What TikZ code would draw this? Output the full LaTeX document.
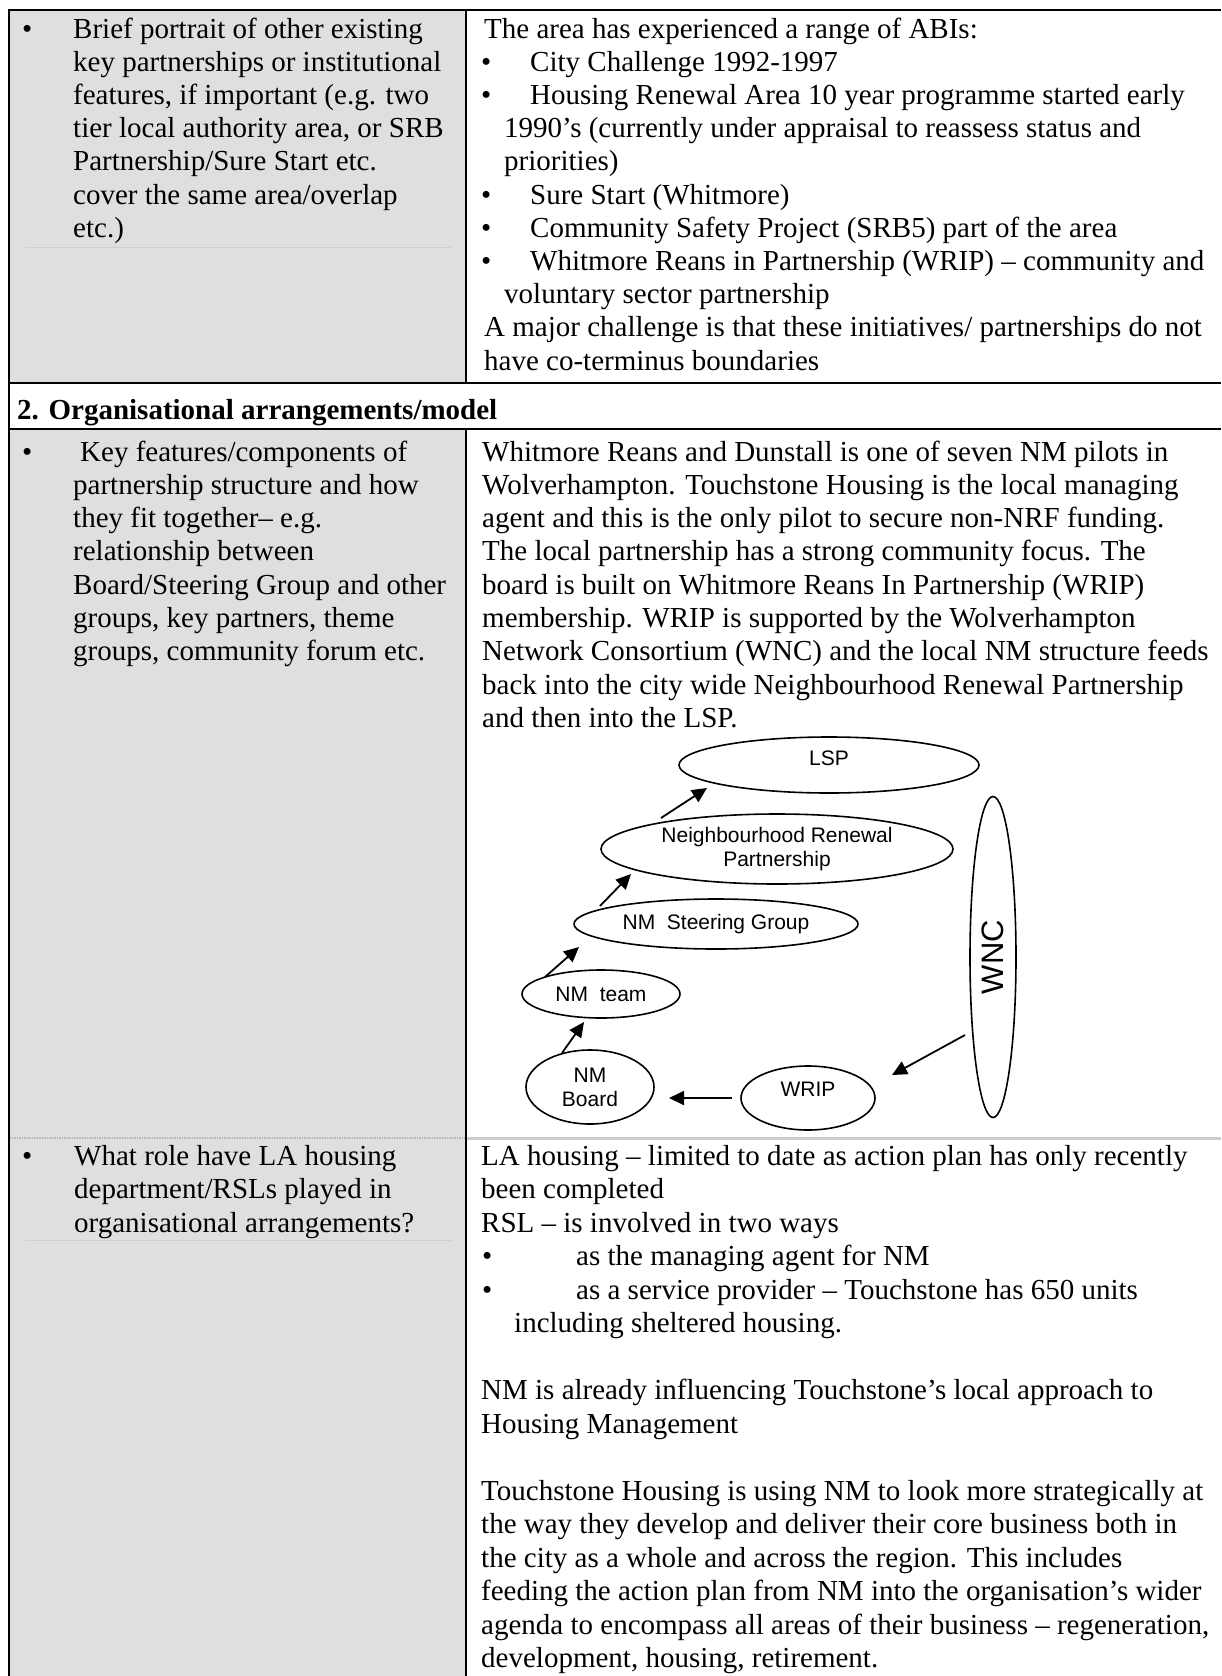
\documentclass[tikz,border=0pt]{standalone}
\usepackage{fontspec}
\setmainfont{Liberation Serif}
\newfontfamily\arialfont{Liberation Sans}
\usetikzlibrary{shapes.geometric,arrows.meta}
\begin{document}
\begin{tikzpicture}[x=1pt,y=-1pt,
  txt/.style={anchor=base west, inner sep=0pt, font=\fontsize{29}{33}\selectfont},
  hd/.style={anchor=base west, inner sep=0pt, font=\fontsize{29}{33}\selectfont\bfseries},
  ell/.style={draw, ellipse, line width=1.6pt, inner sep=0pt, align=center,
    font=\arialfont\fontsize{21}{24}\selectfont},
  arr/.style={-{Triangle[length=15pt,width=14pt]}, line width=1.8pt},
  rule/.style={line width=2.6pt},
  faint/.style={gray!38, line width=1pt},
]
\useasboundingbox (0,0) rectangle (1221,1676);
\fill[white] (0,0) rectangle (1221,1676);
% shaded left column
\fill[gray!25] (9,10) rectangle (466,383);
\fill[gray!25] (9,429) rectangle (466,1676);
% faint lines in left cells
\draw[faint] (25,247) -- (451,247);
\draw[faint] (25,1240) -- (452,1240);
% row 3 separator (grey)
\draw[gray!55, line width=1.5pt, densely dotted] (9,1138) -- (466,1138);
\draw[gray!40, line width=3pt] (466,1138) -- (1221,1138);
% table rules
\draw[rule] (9,10) -- (1221,10);
\draw[rule] (9,383) -- (1221,383);
\draw[rule] (9,429) -- (1221,429);
\draw[rule] (9,8.7) -- (9,1676);
\draw[rule] (466,10) -- (466,383);
\draw[rule] (466,429) -- (466,1676);

% ---------- Row 1 left ----------
\node[txt] (b1) at (22,38) {•};
\node[txt] (l1a) at (73,38) {Brief portrait of other existing};
\node[txt] (l1b) at (73,71.2) {key partnerships or institutional};
\node[txt] (l1c) at (73,104.4) {features, if important (e.g. two};
\node[txt] (l1d) at (73,137.6) {tier local authority area, or SRB};
\node[txt] (l1e) at (73,170.8) {Partnership/Sure Start etc.};
\node[txt] (l1f) at (73,204) {cover the same area/overlap};
\node[txt] (l1g) at (73,237.2) {etc.)};

% ---------- Row 1 right ----------
\node[txt] (r1a) at (484,38) {The area has experienced a range of ABIs:};
\node[txt] (rb1) at (481,71.2) {•};
\node[txt] (r1b) at (530,71.2) {City Challenge 1992-1997};
\node[txt] (rb2) at (481,104.4) {•};
\node[txt] (r1c) at (530,104.4) {Housing Renewal Area 10 year programme started early};
\node[txt] (r1d) at (504,137.6) {1990’s (currently under appraisal to reassess status and};
\node[txt] (r1e) at (504,170.8) {priorities)};
\node[txt] (rb3) at (481,204) {•};
\node[txt] (r1f) at (530,204) {Sure Start (Whitmore)};
\node[txt] (rb4) at (481,237.2) {•};
\node[txt] (r1g) at (530,237.2) {Community Safety Project (SRB5) part of the area};
\node[txt] (rb5) at (481,270.4) {•};
\node[txt] (r1h) at (530,270.4) {Whitmore Reans in Partnership (WRIP) – community and};
\node[txt] (r1i) at (504,303.6) {voluntary sector partnership};
\node[txt] (r1j) at (484,336.8) {A major challenge is that these initiatives/ partnerships do not};
\node[txt] (r1k) at (484,370) {have co-terminus boundaries};

% ---------- Header ----------
\node[hd] (head) at (17,419) {2. Organisational arrangements/model};

% ---------- Row 2 left ----------
\node[txt] (b2) at (22,461) {•};
\node[txt] (l2a) at (80,461) {Key features/components of};
\node[txt] (l2b) at (73,494.3) {partnership structure and how};
\node[txt] (l2c) at (73,527.6) {they fit together– e.g.};
\node[txt] (l2d) at (73,560.9) {relationship between};
\node[txt] (l2e) at (73,594.2) {Board/Steering Group and other};
\node[txt] (l2f) at (73,627.5) {groups, key partners, theme};
\node[txt] (l2g) at (73,660.8) {groups, community forum etc.};

% ---------- Row 2 right ----------
\node[txt] (r2a) at (482,461) {Whitmore Reans and Dunstall is one of seven NM pilots in};
\node[txt] (r2b) at (482,494.3) {Wolverhampton. Touchstone Housing is the local managing};
\node[txt] (r2c) at (482,527.6) {agent and this is the only pilot to secure non-NRF funding.};
\node[txt] (r2d) at (482,560.9) {The local partnership has a strong community focus. The};
\node[txt] (r2e) at (482,594.2) {board is built on Whitmore Reans In Partnership (WRIP)};
\node[txt] (r2f) at (482,627.5) {membership. WRIP is supported by the Wolverhampton};
\node[txt] (r2g) at (482,660.8) {Network Consortium (WNC) and the local NM structure feeds};
\node[txt] (r2h) at (482,694.1) {back into the city wide Neighbourhood Renewal Partnership};
\node[txt] (r2i) at (482,727.4) {and then into the LSP.};

% ---------- Diagram ----------
\node[ell, minimum width=300pt, minimum height=56pt, text depth=14pt] (lsp) at (829,765) {LSP};
\node[ell, minimum width=352pt, minimum height=70pt] (nrp) at (777,849) {Neighbourhood Renewal\\Partnership};
\node[ell, minimum width=284pt, minimum height=50pt] (steer) at (716,924) {NM~~Steering Group};
\node[ell, minimum width=158pt, minimum height=48pt] (team) at (601,994) {NM~~team};
\node[ell, minimum width=128pt, minimum height=74pt] (board) at (590,1087) {NM\\Board};
\node[ell, minimum width=134pt, minimum height=64pt, text depth=18pt] (wrip) at (808,1098) {WRIP};
\node[ell, rotate=90, minimum width=321pt, minimum height=46pt,
  font=\arialfont\fontsize{31}{34}\selectfont] (wnc) at (993,957) {WNC};

\draw[arr] ([shift={(-116,-31)}]nrp.center) -- ([shift={(-122,23)}]lsp.center);
\draw[arr] ([shift={(-116,-18)}]steer.center) -- ([shift={(-146,25)}]nrp.center);
\draw[arr] ([shift={(-56,-17)}]team.center) -- ([shift={(-137,23)}]steer.center);
\draw[arr] ([shift={(-28,-34)}]board.center) -- ([shift={(-17,28)}]team.center);
\draw[arr] ([shift={(-28,78)}]wnc.center) -- ([shift={(84,-23)}]wrip.center);
\draw[arr] ([shift={(-76,0)}]wrip.center) -- ([shift={(79,11)}]board.center);

% ---------- Row 3 left ----------
\node[txt] (b3) at (22,1165) {•};
\node[txt] (l3a) at (74,1165) {What role have LA housing};
\node[txt] (l3b) at (74,1198.5) {department/RSLs played in};
\node[txt] (l3c) at (74,1232) {organisational arrangements?};

% ---------- Row 3 right ----------
\node[txt] (r3a) at (481,1165) {LA housing – limited to date as action plan has only recently};
\node[txt] (r3b) at (481,1198.5) {been completed};
\node[txt] (r3c) at (481,1232) {RSL – is involved in two ways};
\node[txt] (rb6) at (482,1265.5) {•};
\node[txt] (r3d) at (576,1265.5) {as the managing agent for NM};
\node[txt] (rb7) at (482,1299) {•};
\node[txt] (r3e) at (576,1299) {as a service provider – Touchstone has 650 units};
\node[txt] (r3f) at (514,1332.5) {including sheltered housing.};
\node[txt] (r3g) at (481,1399.5) {NM is already influencing Touchstone’s local approach to};
\node[txt] (r3h) at (481,1433) {Housing Management};
\node[txt] (r3i) at (481,1500) {Touchstone Housing is using NM to look more strategically at};
\node[txt] (r3j) at (481,1533.5) {the way they develop and deliver their core business both in};
\node[txt] (r3k) at (481,1567) {the city as a whole and across the region. This includes};
\node[txt] (r3l) at (481,1600.5) {feeding the action plan from NM into the organisation’s wider};
\node[txt] (r3m) at (481,1634) {agenda to encompass all areas of their business – regeneration,};
\node[txt] (r3n) at (481,1667.5) {development, housing, retirement.};
\end{tikzpicture}
\end{document}
